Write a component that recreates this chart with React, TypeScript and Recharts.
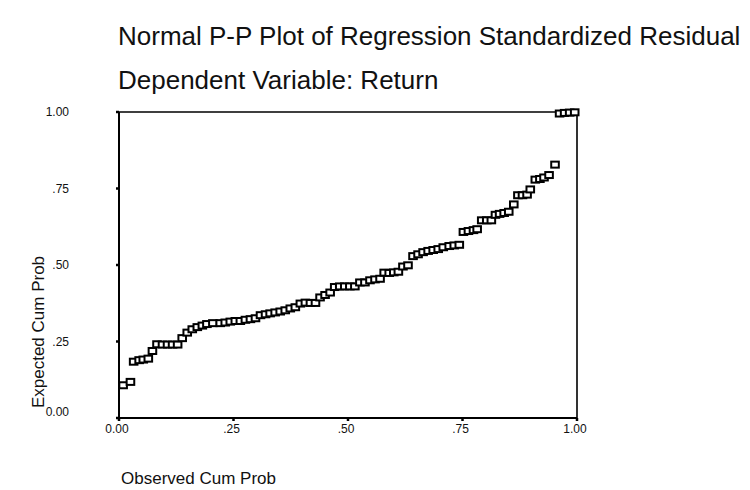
import React from "react";
import {
	ReferenceArea,
	Scatter,
	ScatterChart,
	XAxis,
	YAxis,
} from "recharts";

// P-P plot values (observed vs expected cum prob)
const observedCumProb = [
	0.009, 0.025, 0.032, 0.044, 0.053, 0.064, 0.073, 0.083, 0.095, 0.106,
	0.117, 0.128, 0.138, 0.149, 0.16, 0.171, 0.182, 0.192, 0.205, 0.221,
	0.232, 0.243, 0.254, 0.265, 0.276, 0.287, 0.298, 0.309, 0.32, 0.33,
	0.341, 0.352, 0.363, 0.374, 0.385, 0.396, 0.407, 0.418, 0.429, 0.439,
	0.45, 0.461, 0.471, 0.482, 0.493, 0.504, 0.515, 0.526, 0.537, 0.548,
	0.559, 0.57, 0.579, 0.59, 0.6, 0.61, 0.62, 0.631, 0.642, 0.653,
	0.664, 0.675, 0.686, 0.697, 0.708, 0.721, 0.732, 0.743, 0.752, 0.763,
	0.774, 0.782, 0.792, 0.803, 0.813, 0.822, 0.831, 0.841, 0.851, 0.862,
	0.871, 0.881, 0.891, 0.898, 0.909, 0.919, 0.928, 0.939, 0.952, 0.962,
	0.973, 0.984, 0.995,
];

const expectedCumProb = [
	0.107, 0.118, 0.184, 0.189, 0.191, 0.194, 0.219, 0.241, 0.24, 0.24,
	0.24, 0.24, 0.261, 0.279, 0.29, 0.297, 0.302, 0.307, 0.31, 0.31,
	0.312, 0.315, 0.317, 0.317, 0.321, 0.323, 0.326, 0.336, 0.339, 0.342,
	0.345, 0.348, 0.352, 0.358, 0.362, 0.374, 0.377, 0.376, 0.376, 0.394,
	0.402, 0.41, 0.428, 0.43, 0.43, 0.43, 0.43, 0.443, 0.443, 0.45,
	0.453, 0.455, 0.475, 0.474, 0.476, 0.478, 0.495, 0.499, 0.529, 0.535,
	0.542, 0.546, 0.549, 0.552, 0.558, 0.562, 0.564, 0.566, 0.608, 0.611,
	0.614, 0.617, 0.646, 0.646, 0.646, 0.664, 0.667, 0.67, 0.674, 0.698,
	0.728, 0.728, 0.73, 0.747, 0.779, 0.781, 0.786, 0.794, 0.828, 0.995,
	0.997, 0.998, 0.999,
];

const tickValues = [0, 0.25, 0.5, 0.75, 1];
const tickLabels = ["0.00", ".25", ".50", ".75", "1.00"];

const data = observedCumProb.map((x, i) => ({
	observed: x,
	expected: expectedCumProb[i],
}));

const FONT = '"Liberation Sans", Arial, sans-serif';

const fmt = (v: number) => tickLabels[tickValues.indexOf(v)] ?? String(v);

// hollow square marker like the SPSS output
const SquareMarker = (props: any) => {
	const { cx, cy } = props;
	if (cx == null || cy == null) return null;
	return (
		<rect
			x={cx - 3.8}
			y={cy - 3}
			width={7.6}
			height={6}
			fill="#fff"
			stroke="#000"
			strokeWidth={2}
		/>
	);
};

const YTick = (props: any) => {
	const { x, y, payload } = props;
	// the 0.00 label sits a little above its tick
	const shift = payload.value === 0 ? -6 : 0;
	return (
		<text
			x={x}
			y={y + shift}
			dy="0.355em"
			textAnchor="end"
			fill="#111"
			fontSize={12}
			fontFamily={FONT}
		>
			{fmt(payload.value)}
		</text>
	);
};

const XTick = (props: any) => {
	const { x, y, payload } = props;
	return (
		<text
			x={x - 2}
			y={y}
			dy="0.71em"
			textAnchor="middle"
			fill="#111"
			fontSize={12}
			fontFamily={FONT}
		>
			{fmt(payload.value)}
		</text>
	);
};

export default function App() {
	return (
		<div
			style={{
				position: "absolute",
				left: 0,
				top: 0,
				width: 750,
				height: 490,
				background: "#fff",
				fontFamily: FONT,
			}}
		>
			<div
				style={{
					position: "absolute",
					left: 118,
					top: 23,
					fontSize: 26,
					lineHeight: "26px",
					color: "#111",
					whiteSpace: "nowrap",
				}}
			>
				Normal P-P Plot of Regression Standardized Residual
			</div>
			<div
				style={{
					position: "absolute",
					left: 118,
					top: 67,
					fontSize: 26,
					lineHeight: "26px",
					color: "#111",
					whiteSpace: "nowrap",
				}}
			>
				Dependent Variable: Return
			</div>
			<div
				style={{
					position: "absolute",
					left: 121,
					top: 470,
					fontSize: 17,
					lineHeight: "17px",
					color: "#111",
					whiteSpace: "nowrap",
				}}
			>
				Observed Cum Prob
			</div>
			<div
				style={{
					position: "absolute",
					left: 38,
					top: 332,
					fontSize: 17,
					lineHeight: "17px",
					color: "#111",
					whiteSpace: "nowrap",
					transform: "translate(-50%, -50%) rotate(-90deg)",
				}}
			>
				Expected Cum Prob
			</div>
			<ScatterChart
				width={750}
				height={490}
				margin={{ top: 112, right: 173, bottom: 42, left: 59 }}
				style={{ position: "absolute", left: 0, top: 0 }}
			>
				<XAxis
					type="number"
					dataKey="observed"
					domain={[0, 1]}
					ticks={tickValues}
					height={30}
					axisLine={{ stroke: "#000", strokeWidth: 2 }}
					tickLine={{ stroke: "#000", strokeWidth: 2.5 }}
					tickSize={3}
					tickMargin={3}
					tick={<XTick />}
				/>
				<YAxis
					type="number"
					dataKey="expected"
					domain={[0, 1]}
					ticks={tickValues}
					width={60}
					axisLine={{ stroke: "#000", strokeWidth: 2 }}
					tickLine={{ stroke: "#000", strokeWidth: 2.5 }}
					tickSize={3}
					tickMargin={47}
					tick={<YTick />}
				/>
				<ReferenceArea
					x1={0}
					x2={1}
					y1={0}
					y2={1}
					fill="none"
					stroke="#000"
					strokeWidth={1.6}
				/>
				<Scatter
					data={data}
					shape={<SquareMarker />}
					isAnimationActive={false}
				/>
			</ScatterChart>
		</div>
	);
}
